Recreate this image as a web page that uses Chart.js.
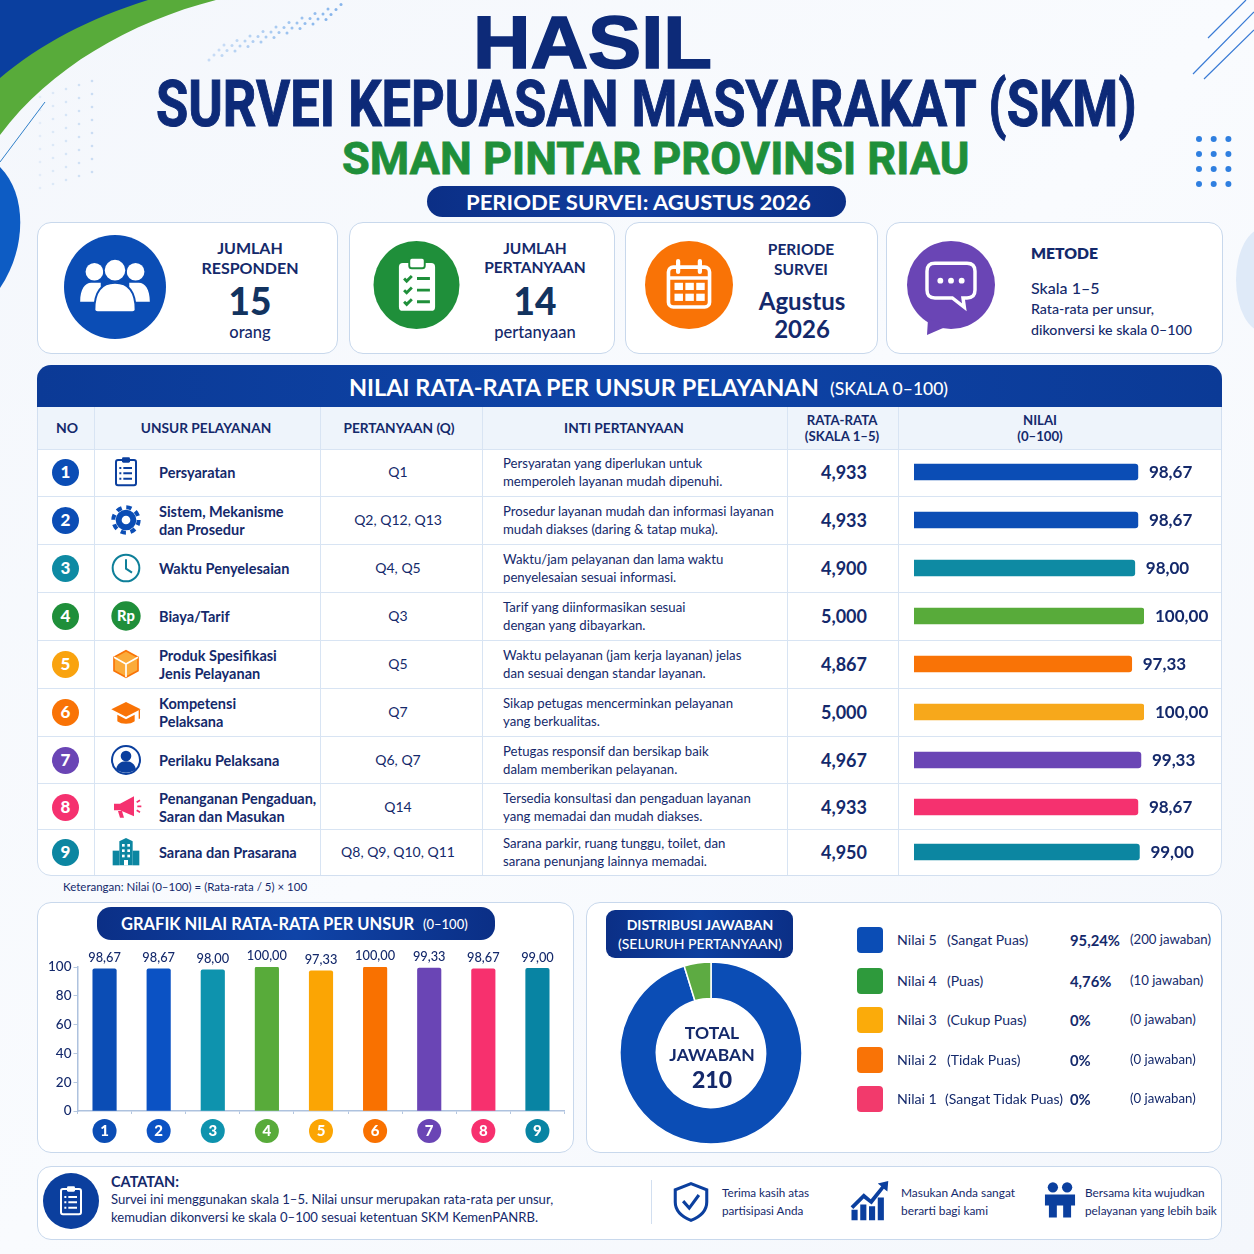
<!DOCTYPE html>
<html lang="id">
<head>
<meta charset="utf-8">
<title>Hasil SKM</title>
<script src="https://cdn.jsdelivr.net/npm/chart.js@4"></script>
<style>
html,body{margin:0;padding:0;background:#f6f9fd;}
#page{position:relative;width:1254px;height:1254px;overflow:hidden;font-family:Lato,"Noto Sans",sans-serif;color:#14296b;
  background:linear-gradient(135deg,#f4f7fc,#f9fbfe 50%,#f4f7fc);}
#page>*{position:absolute;}
.card{background:#fff;border:1px solid #c8d8ec;border-radius:14px;box-sizing:border-box;}
.t{white-space:nowrap;line-height:.85;}
canvas{display:block;}
</style>
</head>
<body>
<div id="page"></div>
<script>
// data
const unsurNo = [1, 2, 3, 4, 5, 6, 7, 8, 9];
const unsurNames = [
  ['Persyaratan'], ['Sistem, Mekanisme', 'dan Prosedur'], ['Waktu Penyelesaian'], ['Biaya/Tarif'],
  ['Produk Spesifikasi', 'Jenis Pelayanan'], ['Kompetensi', 'Pelaksana'], ['Perilaku Pelaksana'],
  ['Penanganan Pengaduan,', 'Saran dan Masukan'], ['Sarana dan Prasarana']
];
const questions = ['Q1', 'Q2, Q12, Q13', 'Q4, Q5', 'Q3', 'Q5', 'Q7', 'Q6, Q7', 'Q14', 'Q8, Q9, Q10, Q11'];
const descriptions = [
  ['Persyaratan yang diperlukan untuk', 'memperoleh layanan mudah dipenuhi.'],
  ['Prosedur layanan mudah dan informasi layanan', 'mudah diakses (daring & tatap muka).'],
  ['Waktu/jam pelayanan dan lama waktu', 'penyelesaian sesuai informasi.'],
  ['Tarif yang diinformasikan sesuai', 'dengan yang dibayarkan.'],
  ['Waktu pelayanan (jam kerja layanan) jelas', 'dan sesuai dengan standar layanan.'],
  ['Sikap petugas mencerminkan pelayanan', 'yang berkualitas.'],
  ['Petugas responsif dan bersikap baik', 'dalam memberikan pelayanan.'],
  ['Tersedia konsultasi dan pengaduan layanan', 'yang memadai dan mudah diakses.'],
  ['Sarana parkir, ruang tunggu, toilet, dan', 'sarana penunjang lainnya memadai.']
];
const rataRata = ['4,933', '4,933', '4,900', '5,000', '4,867', '5,000', '4,967', '4,933', '4,950'];
const nilai = [98.67, 98.67, 98.00, 100.00, 97.33, 100.00, 99.33, 98.67, 99.00];
const distLabels = ['Nilai 5', 'Nilai 4', 'Nilai 3', 'Nilai 2', 'Nilai 1'];
const distNotes = ['(Sangat Puas)', '(Puas)', '(Cukup Puas)', '(Tidak Puas)', '(Sangat Tidak Puas)'];
const distPct = ['95,24%', '4,76%', '0%', '0%', '0%'];
const distCount = [200, 10, 0, 0, 0];

// colours
const NAVY = '#14296b';
const rowBarColors = ['#0b4db5', '#0b4db5', '#0e8aa3', '#58ab3a', '#f97306', '#f7a81b', '#6a45b5', '#f5316f', '#0c86a1'];
const rowDotColors = ['#0b4db5', '#0b4db5', '#0e8aa3', '#1f8f3a', '#f9a30f', '#f97306', '#6a45b5', '#f5316f', '#0c86a1'];
const chartColors = ['#0b4db5', '#0b52c4', '#0e93ae', '#58ab3a', '#fba504', '#f97100', '#6a45b5', '#f7306e', '#0884a3'];
const distColors = ['#0b4db5', '#2e9a3c', '#fbab0a', '#f97306', '#f23a6c'];
const distRing = ['#0b4db5', '#5dab42', '#fbab0a', '#f97306', '#f23a6c'];

const page = document.getElementById('page');
const fmt = v => v.toFixed(2).replace('.', ',');

function box(x, y, w, h, css, cls) {
  const d = document.createElement('div');
  d.style.cssText = `left:${x}px;top:${y}px;width:${w}px;height:${h}px;` + (css || '');
  if (cls) d.className = cls;
  page.appendChild(d);
  return d;
}
// y is the vertical middle of the text
function txt(s, x, y, size, o) {
  o = o || {};
  const d = document.createElement('div');
  d.className = 't';
  d.textContent = s;
  const tx = o.align === 'center' ? '-50%' : '0';
  d.style.cssText = `left:${x}px;top:${y}px;font-size:${size}px;font-weight:${o.w || 400};color:${o.c || NAVY};transform:translate(${tx},-50%);` + (o.css || '');
  page.appendChild(d);
  if (o.fit) {
    // squeeze to the width measured on the reference
    d.style.transformOrigin = 'left center';
    d.style.transform = `translate(0,-50%) scaleX(${o.fit / d.offsetWidth})`;
  }
  return d;
}
function svg(x, y, w, h, vb, inner) {
  const d = box(x, y, w, h);
  d.innerHTML = `<svg xmlns="http://www.w3.org/2000/svg" width="${w}" height="${h}" viewBox="${vb}" style="display:block">${inner}</svg>`;
  return d;
}
function canvas(x, y, w, h) {
  const c = document.createElement('canvas');
  c.width = w; c.height = h;
  c.style.cssText = `left:${x}px;top:${y}px;width:${w}px;height:${h}px;`;
  page.appendChild(c);
  return c;
}

// background shapes
let dots = '';
for (let i = 0; i < 10; i++) for (let j = 0; j < 4; j++) {
  dots += `<circle cx="${209 + i * 13 + j * 5}" cy="${60 - i * 4.5 - j * 5}" r="1.5" fill="#7fb0ea" opacity="${0.4 + 0.06 * i}"/>`;
}
for (let i = 0; i < 8; i++) for (let j = 0; j < 5; j++) {
  dots += `<circle cx="${40 + j * 13}" cy="${188 - i * 13 - j * 4}" r="1.3" fill="#9cc0ea" opacity="${0.2 + 0.07 * j}"/>`;
}
for (let i = 0; i < 3; i++) for (let j = 0; j < 4; j++) {
  dots += `<circle cx="${1199 + i * 14.7}" cy="${139 + j * 15}" r="3" fill="#2f7fe0"/>`;
}
svg(0, 0, 1254, 360, '0 0 1254 360', `
  <path d="M0 0H216C130 22 50 68 0 135Z" fill="#58ab3a"/>
  <path d="M0 0H148C90 18 40 44 0 78Z" fill="#0a3f9f"/>
  <path d="M45 102L0 162" stroke="#2f7fc8" stroke-width="1" fill="none"/>
  <path d="M0 167C28 195 26 250 0 288Z" fill="#0d5cc4"/>
  <ellipse cx="1264" cy="280" rx="28" ry="52" fill="#dfeaf8"/>
  <path d="M1208 38L1246 0M1193 74L1254 12M1204 79L1254 30" stroke="#3a7bd5" stroke-width="1.2" fill="none"/>
  ${dots}`);

// titles, fitted to the measured widths
txt('HASIL', 473, 43, 74, { w: 700, c: '#0d2a78', fit: 239, css: 'font-family:"Liberation Sans";line-height:.72;-webkit-text-stroke:1.6px #0d2a78;' });
txt('SURVEI KEPUASAN MASYARAKAT (SKM)', 156, 105, 64, { w: 700, c: '#0d2a78', fit: 981, css: 'font-family:Roboto;line-height:.72;-webkit-text-stroke:1px #0d2a78;' });
txt('SMAN PINTAR PROVINSI RIAU', 342, 159, 45, { w: 700, c: '#1f8f3a', fit: 627, css: 'font-family:Roboto;line-height:.72;-webkit-text-stroke:.8px #1f8f3a;' });
box(427, 186, 419, 31, 'border-radius:16px;background:linear-gradient(90deg,#0b2f86,#103c9e 50%,#0b2f86);');
txt('PERIODE SURVEI: AGUSTUS 2026', 466, 202, 21, { w: 700, c: '#fff', fit: 345 });

// icons
const icons = {
  users: `<g fill="#fff"><circle cx="11" cy="15" r="5.6"/><circle cx="37" cy="15" r="5.6"/><path d="M2 34c0-8 3-12 7-12h6v12zM46 34c0-8-3-12-7-12h-6v12z"/><circle cx="24" cy="14" r="7" stroke="#0b4db5" stroke-width="1"/><path d="M11 39c0-12 5-17 13-17s13 5 13 17c0 1-1 1.500-2 1.500H13c-1 0-2-.5-2-1.500z" stroke="#0b4db5" stroke-width="1.200"/></g>`,
  clip: `<rect x="10" y="7" width="28" height="37" rx="3" fill="#fff"/><rect x="18" y="3" width="12" height="8" rx="2" fill="#fff" stroke="#1f8f3a" stroke-width="1.500"/><g fill="none" stroke="#1f8f3a" stroke-width="2.200"><path d="M14 19l2 2 4-4M14 28l2 2 4-4M14 37l2 2 4-4"/><path d="M24 19h10M24 28h10M24 37h10"/></g>`,
  cal: `<rect x="7" y="10" width="34" height="33" rx="4" fill="none" stroke="#fff" stroke-width="3"/><path d="M7 19h34" stroke="#fff" stroke-width="3"/><path d="M15 5v9M33 5v9" stroke="#fff" stroke-width="3.500" stroke-linecap="round"/><g fill="#fff"><rect x="12" y="23" width="7" height="6"/><rect x="21" y="23" width="7" height="6"/><rect x="30" y="23" width="7" height="6"/><rect x="12" y="32" width="7" height="6"/><rect x="21" y="32" width="7" height="6"/><rect x="30" y="32" width="7" height="6"/></g>`,
  chat: `<path d="M12 7h24c4 0 6 2 6 6v14c0 4-2 6-6 6h-3l1 7-9-7H12c-4 0-6-2-6-6V13c0-4 2-6 6-6z" fill="none" stroke="#fff" stroke-width="2.600"/><g fill="#fff"><circle cx="16" cy="20" r="2.200"/><circle cx="24" cy="20" r="2.200"/><circle cx="32" cy="20" r="2.200"/></g>`,
  list: `<rect x="9" y="6" width="30" height="38" rx="3" fill="none" stroke="#0b3f9e" stroke-width="3"/><rect x="18" y="2" width="12" height="8" rx="2" fill="#0b3f9e"/><g stroke="#0b3f9e" stroke-width="3"><path d="M20 18h13M20 26h13M20 34h13"/><path d="M14 18h3M14 26h3M14 34h3"/></g>`,
  gear: `<circle cx="24" cy="24" r="11" fill="none" stroke="#0b4db5" stroke-width="9"/><circle cx="24" cy="24" r="19" fill="none" stroke="#0b4db5" stroke-width="6" stroke-dasharray="7.900 7"/>`,
  clock: `<circle cx="24" cy="24" r="20" fill="none" stroke="#0e7f99" stroke-width="3"/><path d="M24 11v14l9 6" fill="none" stroke="#0e7f99" stroke-width="3"/>`,
  rp: `<circle cx="24" cy="24" r="22" fill="#1f8f3a"/><text x="24" y="32" text-anchor="middle" font-family="Lato" font-weight="900" font-size="22" fill="#fff">Rp</text>`,
  cube: `<path d="M24 4L42 14V34L24 44L6 34V14Z" fill="#fbab3a" stroke="#f97306" stroke-width="2.500"/><path d="M6 14L24 24L42 14M24 24V44" fill="none" stroke="#fff" stroke-width="2.500"/>`,
  cap: `<path d="M24 9L2 20L24 31L46 20Z" fill="#f97306"/><path d="M11 28V38C17 43 31 43 37 38V28L24 35Z" fill="#f97306"/><path d="M44 21V34" stroke="#f97306" stroke-width="2"/>`,
  person: `<circle cx="24" cy="24" r="21" fill="none" stroke="#0b3f9e" stroke-width="3"/><circle cx="24" cy="18" r="8" fill="#0b3f9e"/><path d="M9 38c2-9 8-12 15-12s13 3 15 12c-8 7-22 7-30 0z" fill="#0b3f9e"/>`,
  mega: `<path d="M6 19h9L36 8V38L15 29H6z" fill="#f5316f"/><path d="M12 30l3 10h6l-3-10z" fill="#f5316f"/><path d="M40 17l5-3M41 23h6M40 29l5 3" stroke="#f5316f" stroke-width="2.500"/>`,
  bldg: `<path d="M14 44V8L24 3L34 8V44Z" fill="#0c86a1"/><rect x="4" y="22" width="10" height="22" fill="#0c86a1"/><rect x="34" y="22" width="10" height="22" fill="#0c86a1"/><g fill="#fff"><rect x="18" y="12" width="4" height="4"/><rect x="26" y="12" width="4" height="4"/><rect x="18" y="20" width="4" height="4"/><rect x="26" y="20" width="4" height="4"/><rect x="18" y="28" width="4" height="4"/><rect x="26" y="28" width="4" height="4"/><rect x="21" y="36" width="6" height="8"/></g>`,
  shield: `<path d="M24 3L42 10V24C42 34 34 41 24 45C14 41 6 34 6 24V10Z" fill="none" stroke="#0b3f9e" stroke-width="3.500"/><path d="M15 23l7 8 11-15" fill="none" stroke="#0b3f9e" stroke-width="3.500"/>`,
  growth: `<g fill="#0b3f9e"><rect x="4" y="34" width="7" height="12"/><rect x="14" y="28" width="7" height="18"/><rect x="24" y="30" width="7" height="16"/><rect x="34" y="20" width="7" height="26"/><path d="M3 30L18 15L26 22L38 7L34 4L46 1L45 13L41 10L27 28L18 21L6 33Z"/></g>`,
  people: `<g fill="#0b3f9e"><circle cx="15" cy="8" r="6.500"/><circle cx="33" cy="8" r="6.500"/><path d="M5 17h19v14h-4v15h-10V31H5zM24 17h19v14h-5v15H28V31h-4z"/></g>`
};
const rowIcons = ['list', 'gear', 'clock', 'rp', 'cube', 'cap', 'person', 'mega', 'bldg'];

// stat cards
box(37, 222, 301, 132, '', 'card');
box(349, 222, 266, 132, '', 'card');
box(625, 222, 253, 132, '', 'card');
box(886, 222, 337, 132, '', 'card');
svg(64, 235, 102, 104, '0 0 102 104', `<ellipse cx="51" cy="52" rx="51" ry="52" fill="#0b4db5"/><svg x="13" y="13" width="76" height="76" viewBox="0 0 48 48">${icons.users}</svg>`);
svg(373, 241, 87, 88, '0 0 87 88', `<ellipse cx="43.500" cy="44" rx="43" ry="44" fill="#1f8f3a"/><svg x="13" y="13" width="62" height="62" viewBox="0 0 48 48">${icons.clip}</svg>`);
svg(645, 241, 88, 88, '0 0 88 88', `<circle cx="44" cy="44" r="44" fill="#f97306"/><svg x="15" y="14" width="58" height="58" viewBox="0 0 48 48">${icons.cal}</svg>`);
svg(906, 241, 90, 94, '0 0 90 94', `<ellipse cx="45" cy="44" rx="44" ry="44" fill="#6a45b5"/><path d="M22 78L21 94L44 84Z" fill="#6a45b5"/><svg x="13" y="13" width="64" height="64" viewBox="0 0 48 48">${icons.chat}</svg>`);

txt('JUMLAH', 250, 248, 16, { align: 'center', w: 700 });
txt('RESPONDEN', 250, 268, 16, { align: 'center', w: 700 });
txt('15', 250, 301, 37, { align: 'center', w: 900, c: '#12335f', css: 'line-height:.75;' });
txt('orang', 250, 332, 16.5, { align: 'center', w: 500 });
txt('JUMLAH', 535, 249, 15.5, { align: 'center', w: 700 });
txt('PERTANYAAN', 535, 268, 15.5, { align: 'center', w: 700 });
txt('14', 535, 301, 37, { align: 'center', w: 900, c: '#12335f', css: 'line-height:.75;' });
txt('pertanyaan', 535, 332, 16.5, { align: 'center', w: 500 });
txt('PERIODE', 801, 250, 15.5, { align: 'center', w: 700 });
txt('SURVEI', 801, 270, 15.5, { align: 'center', w: 700 });
txt('Agustus', 802, 301, 24, { align: 'center', w: 700 });
txt('2026', 802, 329, 24, { align: 'center', w: 700 });
txt('METODE', 1031, 254, 15.7, { w: 800 });
txt('Skala 1–5', 1031, 288, 16, { w: 500 });
txt('Rata-rata per unsur,', 1031, 309, 14.2, { w: 500 });
txt('dikonversi ke skala 0–100', 1031, 330, 14.2, { w: 500 });

// table frame
box(37, 365, 1185, 511, 'background:#fff;border:1px solid #d2dff0;border-radius:14px;box-sizing:border-box;');
box(37, 365, 1185, 42, 'background:linear-gradient(90deg,#0b3a96,#0e44a8 50%,#0b3a96);border-radius:14px 14px 0 0;');
txt('NILAI RATA-RATA PER UNSUR PELAYANAN', 349, 388, 23.5, { w: 700, c: '#fff' });
txt('(SKALA 0–100)', 830, 389, 17.5, { w: 500, c: '#fff' });
box(38, 407, 1183, 42, 'background:#eef4fb;');
const colLines = [94, 320, 482, 787, 898];
const rowLines = [449, 496, 544, 592, 640, 688, 736, 783, 829];
const rowY = [472, 520, 568, 616, 664, 712, 760, 807, 852];
colLines.forEach(x => box(x, 407, 1, 468, 'background:#d8e4f3;'));
rowLines.forEach(y => box(38, y, 1183, 1, 'background:#d8e4f3;'));
txt('NO', 67, 428, 14, { align: 'center', w: 700 });
txt('UNSUR PELAYANAN', 206, 428, 13.7, { align: 'center', w: 700 });
txt('PERTANYAAN (Q)', 399, 428, 13.7, { align: 'center', w: 700 });
txt('INTI PERTANYAAN', 624, 428, 13.7, { align: 'center', w: 700 });
txt('RATA-RATA', 842, 421, 13.2, { align: 'center', w: 700 });
txt('(SKALA 1–5)', 842, 437, 13.2, { align: 'center', w: 700 });
txt('NILAI', 1040, 421, 13.2, { align: 'center', w: 700 });
txt('(0–100)', 1040, 437, 13.2, { align: 'center', w: 700 });

// table rows
unsurNo.forEach((n, i) => {
  const y = rowY[i];
  box(52, y - 13.5, 27, 27, `border-radius:50%;background:${rowDotColors[i]};`);
  txt(String(n), 65.500, y, 17, { align: 'center', w: 900, c: '#fff' });
  svg(110, y - 16, 32, 32, '0 0 48 48', icons[rowIcons[i]]);
  const nm = unsurNames[i];
  if (nm.length === 1) txt(nm[0], 159, y + 1, 14.500, { w: 700 });
  else { txt(nm[0], 159, y - 8, 14.500, { w: 700 }); txt(nm[1], 159, y + 10, 14.500, { w: 700 }); }
  txt(questions[i], 398, y, 14, { align: 'center' });
  txt(descriptions[i][0], 503, y - 8, 13.200);
  txt(descriptions[i][1], 503, y + 9.500, 13.200);
  txt(rataRata[i], 844, y + 1, 18, { align: 'center', w: 700 });
});

// one small horizontal bar per table row
const barEndLabel = {
  id: 'barEndLabel',
  afterDatasetsDraw(chart) {
    const bar = chart.getDatasetMeta(0).data[0];
    const ctx = chart.ctx;
    ctx.save();
    ctx.font = '700 17px Lato';
    ctx.fillStyle = NAVY;
    ctx.textAlign = 'left';
    ctx.textBaseline = 'middle';
    ctx.fillText(fmt(chart.data.datasets[0].data[0]), bar.x + 11, bar.y + 1);
    ctx.restore();
  }
};
unsurNo.forEach((n, i) => {
  new Chart(canvas(914, rowY[i] - 13, 306, 26), {
    type: 'bar',
    data: { labels: [String(n)], datasets: [{ data: [nilai[i]], backgroundColor: rowBarColors[i], borderRadius: 3, borderSkipped: false, barThickness: 16 }] },
    options: {
      indexAxis: 'y', responsive: false, animation: false,
      layout: { padding: { left: 0, right: 76, top: 0, bottom: 0 } },
      plugins: { legend: { display: false }, tooltip: { enabled: false } },
      scales: { x: { display: false, min: 50, max: 100 }, y: { display: false } }
    },
    plugins: [barEndLabel]
  });
});

txt('Keterangan: Nilai (0–100) = (Rata-rata / 5) × 100', 63, 887, 11.500, {});

// bar chart panel
box(37, 902, 537, 251, '', 'card');
box(97, 907, 398, 33, 'background:linear-gradient(90deg,#0b2f86,#0f44a8 50%,#0b2f86);border-radius:14px;');
txt('GRAFIK NILAI RATA-RATA PER UNSUR', 121, 924, 16.500, { w: 700, c: '#fff' });
txt('(0–100)', 423, 925, 13, { w: 500, c: '#fff' });

const barDecor = {
  id: 'barDecor',
  beforeDraw(chart) {
    const ctx = chart.ctx, xs = chart.scales.x;
    ctx.save();
    unsurNo.forEach((n, i) => {
      ctx.fillStyle = chartColors[i];
      ctx.beginPath();
      ctx.arc(xs.getPixelForTick(i), xs.top + 20, 12, 0, Math.PI * 2);
      ctx.fill();
    });
    ctx.restore();
  },
  afterDatasetsDraw(chart) {
    const ctx = chart.ctx;
    ctx.save();
    ctx.font = '500 12.8px Lato';
    ctx.fillStyle = NAVY;
    ctx.textAlign = 'center';
    ctx.textBaseline = 'middle';
    chart.getDatasetMeta(0).data.forEach((bar, i) => ctx.fillText(fmt(nilai[i]), bar.x, bar.y - 11));
    ctx.restore();
  }
};
new Chart(canvas(37, 945, 536, 207), {
  type: 'bar',
  data: { labels: unsurNo, datasets: [{ data: nilai, backgroundColor: chartColors, borderRadius: 2, barThickness: 23.5 }] },
  options: {
    responsive: false, animation: false,
    layout: { padding: { top: 22, right: 8.5, left: 0, bottom: 0 } },
    plugins: { legend: { display: false }, tooltip: { enabled: false } },
    scales: {
      x: {
        afterFit(s) { s.height = 41; },
        grid: { display: true, drawOnChartArea: false, tickLength: 3, color: '#b5c7e0' },
        border: { color: '#aec2de', width: 1.500 },
        ticks: { color: '#fff', font: { family: 'Lato', weight: '900', size: 15 }, padding: 8 }
      },
      y: {
        min: 0, max: 100,
        afterFit(s) { s.width = 40.5; },
        grid: { display: true, drawOnChartArea: false, tickLength: 4, color: '#b5c7e0' },
        border: { color: '#aec2de', width: 1.500 },
        ticks: { stepSize: 20, color: NAVY, padding: 2, font: { family: 'Lato', weight: '500', size: 13.5 } }
      }
    }
  },
  plugins: [barDecor]
});

// doughnut panel
box(586, 902, 636, 251, '', 'card');
box(606, 910, 187, 48, 'background:linear-gradient(90deg,#0b2f86,#0e3f9f 50%,#0b2f86);border-radius:9px;');
txt('DISTRIBUSI JAWABAN', 700, 925, 14, { align: 'center', w: 700, c: '#fff' });
txt('(SELURUH PERTANYAAN)', 700, 944, 14, { align: 'center', w: 500, c: '#fff' });
new Chart(canvas(619, 961, 184, 184), {
  type: 'doughnut',
  data: { labels: distLabels, datasets: [{ data: distCount, backgroundColor: distRing, borderColor: '#fff', borderWidth: 1.500 }] },
  options: {
    responsive: false, animation: false, radius: 91, cutout: '60%',
    plugins: { legend: { display: false }, tooltip: { enabled: false } }
  }
});
txt('TOTAL', 712, 1033, 17.500, { align: 'center', w: 700 });
txt('JAWABAN', 712, 1055, 17.500, { align: 'center', w: 700 });
txt('210', 712, 1080, 23, { align: 'center', w: 900 });

const legendY = [940, 981, 1020, 1060, 1099];
distLabels.forEach((l, i) => {
  const y = legendY[i];
  box(857, y - 13, 26, 26, `border-radius:4px;background:${distColors[i]};`);
  txt(l, 897, y, 14.200);
  txt(distNotes[i], i === 4 ? 945 : 947, y, 14);
  txt(distPct[i], 1070, y, 14.800, { w: 700 });
  txt('(' + distCount[i] + ' jawaban)', 1130, y, 13.200);
});

// catatan strip
box(37, 1166, 1185, 74, '', 'card');
svg(43, 1173, 56, 56, '0 0 56 56', `<circle cx="28" cy="28" r="28" fill="#0b3f9e"/><svg x="12" y="12" width="32" height="32" viewBox="0 0 48 48"><rect x="9" y="6" width="30" height="38" rx="3" fill="none" stroke="#fff" stroke-width="3"/><rect x="18" y="2" width="12" height="8" rx="2" fill="#fff"/><g stroke="#fff" stroke-width="3"><path d="M20 18h13M20 26h13M20 34h13M14 18h3M14 26h3M14 34h3"/></g></svg>`);
txt('CATATAN:', 111, 1182, 14.500, { w: 700 });
txt('Survei ini menggunakan skala 1–5. Nilai unsur merupakan rata-rata per unsur,', 111, 1200, 13.100);
txt('kemudian dikonversi ke skala 0–100 sesuai ketentuan SKM KemenPANRB.', 111, 1218, 13.100);
box(651, 1180, 1, 44, 'background:#d2dff0;');
svg(670, 1179, 42, 46, '0 0 48 48', icons.shield);
txt('Terima kasih atas', 722, 1193, 11.700);
txt('partisipasi Anda', 722, 1211, 11.700);
svg(848, 1180, 42, 42, '0 0 48 48', icons.growth);
txt('Masukan Anda sangat', 901, 1193, 11.900);
txt('berarti bagi kami', 901, 1211, 11.900);
svg(1041, 1178, 38, 44, '0 0 48 48', icons.people);
txt('Bersama kita wujudkan', 1085, 1193, 11.800);
txt('pelayanan yang lebih baik', 1085, 1211, 11.800);
</script>
</body>
</html>
